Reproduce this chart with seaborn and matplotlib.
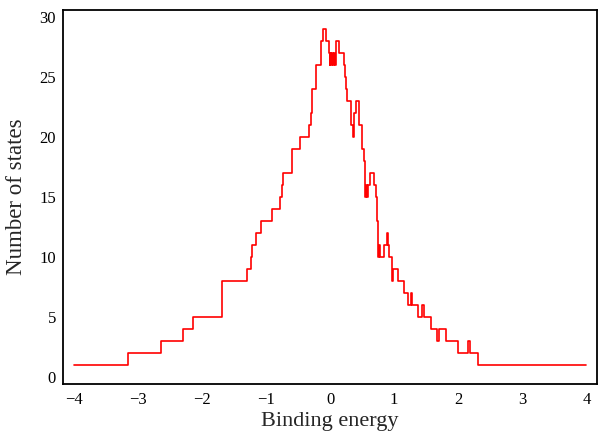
import numpy as np
import pandas as pd
import matplotlib
matplotlib.use("Agg")
import matplotlib.pyplot as plt
import seaborn as sns

# step edges (binding energy) and the number of states from each edge onwards
energy = [
    -4.00, -3.15, -2.64, -2.30, -2.14, -1.69, -1.30, -1.24, -1.21, -1.16,
    -1.07, -0.905, -0.775, -0.750, -0.733, -0.593, -0.463, -0.323, -0.301, -0.281,
    -0.218, -0.136, -0.109, -0.062, -0.020, -0.008, 0.004, 0.016, 0.028, 0.045,
    0.060, 0.075, 0.089, 0.145, 0.225, 0.240, 0.255, 0.270, 0.328, 0.355,
    0.370, 0.405, 0.452, 0.495, 0.505, 0.525, 0.540, 0.546, 0.560, 0.572,
    0.590, 0.625, 0.686, 0.710, 0.725, 0.744, 0.765, 0.780, 0.842, 0.885,
    0.905, 0.925, 0.963, 0.988, 1.056, 1.159, 1.212, 1.264, 1.279, 1.368,
    1.440, 1.458, 1.571, 1.665, 1.700, 1.805, 2.002, 2.158, 2.176, 2.314,
    4.00,
]
states = [
    1, 2, 3, 4, 5, 8, 9, 10, 11, 12,
    13, 14, 15, 16, 17, 19, 20, 21, 22, 24,
    26, 28, 29, 28, 27, 26, 27, 26, 27, 26,
    27, 26, 28, 27, 26, 25, 24, 23, 21, 20,
    22, 23, 21, 20, 19, 18, 16, 15, 16, 15,
    16, 17, 16, 15, 13, 10, 11, 10, 11, 12,
    11, 10, 8, 9, 8, 7, 6, 7, 6, 5,
    6, 5, 4, 3, 4, 3, 2, 3, 2, 1,
    1,
]

x_ticks = [-4, -3, -2, -1, 0, 1, 2, 3, 4]
y_ticks = [0, 5, 10, 15, 20, 25, 30]

sns.set_style("white")
plt.rcParams["font.family"] = ["Liberation Serif", "DejaVu Serif"]

df = pd.DataFrame({"energy": energy, "states": states})

fig = plt.figure(figsize=(5.99, 4.36), dpi=100)
ax = fig.add_axes([0.1052, 0.1193, 0.891, 0.8577])
sns.lineplot(data=df, x="energy", y="states", ax=ax, color="red",
             linewidth=1.2, drawstyle="steps-post", estimator=None, sort=False)

ax.set_xlim(-4.165, 4.16)
ax.set_ylim(-0.58, 30.58)
ax.set_xticks(x_ticks)
ax.set_yticks(y_ticks)
ax.tick_params(axis="both", direction="in", length=3.5, width=1.0,
               labelsize=12, colors="black", top=False, right=False)
ax.tick_params(axis="x", pad=6)
ax.tick_params(axis="y", pad=5)
for sp in ax.spines.values():
    sp.set_visible(True)
    sp.set_color("black")
    sp.set_linewidth(1.3)

ax.set_xlabel("Binding energy", fontsize=16, labelpad=3)
ax.set_ylabel("Number of states", fontsize=16.5, labelpad=9)

fig.savefig("out.png", dpi=100)
plt.close(fig)
